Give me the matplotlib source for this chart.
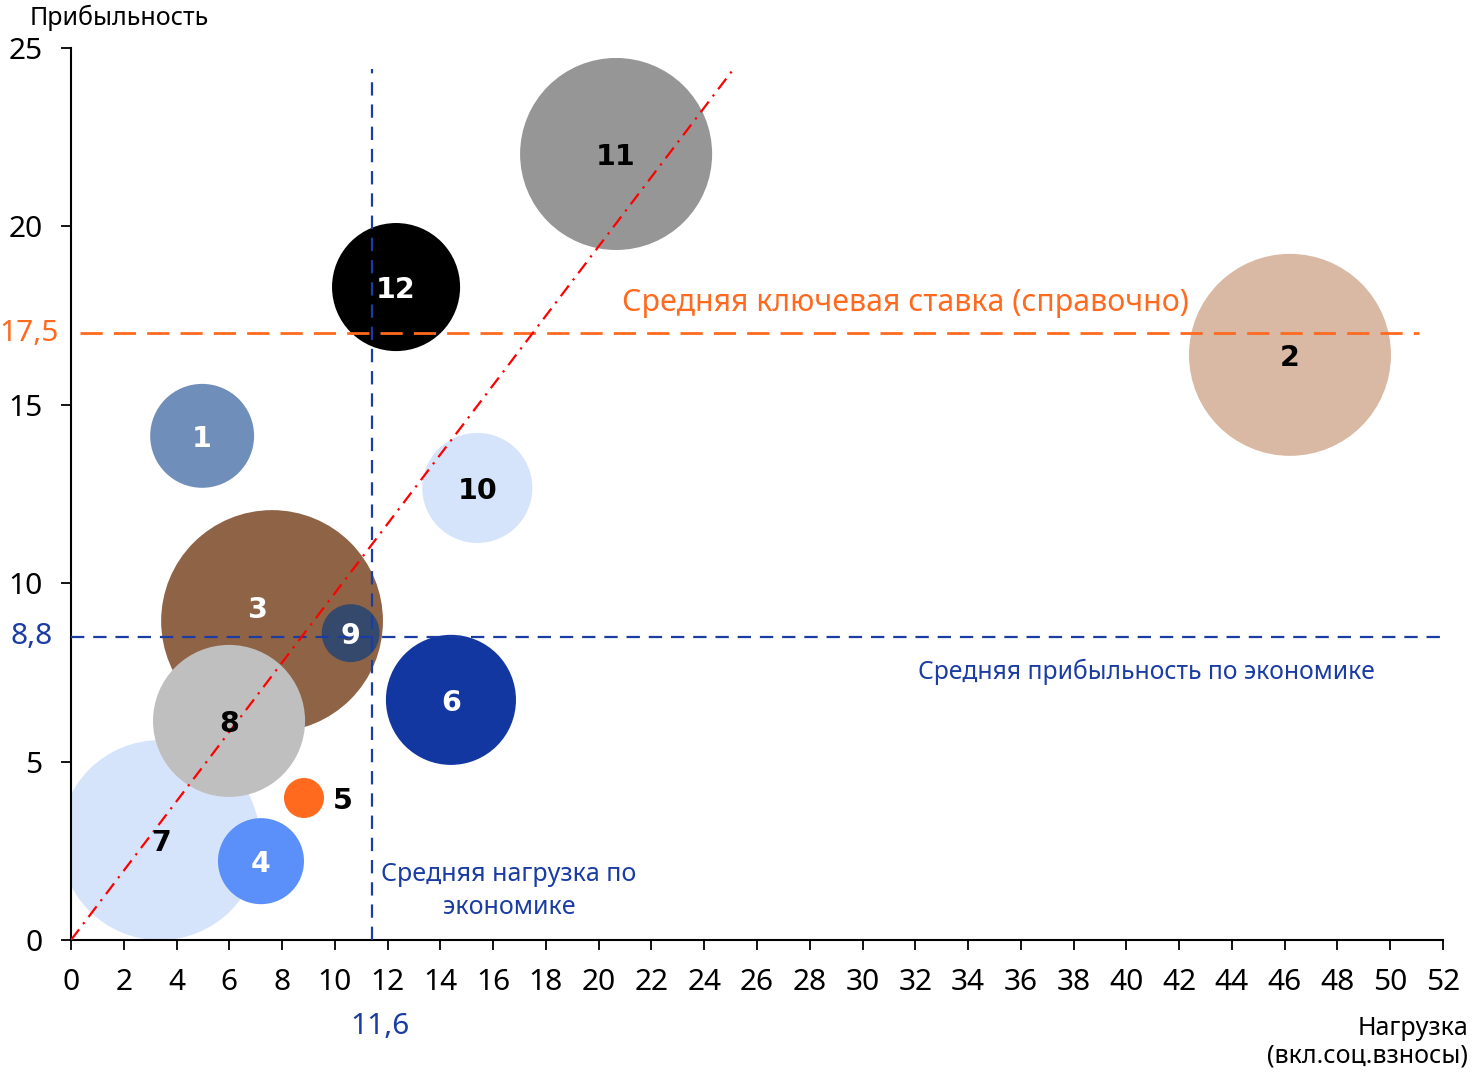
import numpy as np
import matplotlib
matplotlib.use("Agg")
import matplotlib.pyplot as plt
from matplotlib.patches import Rectangle

plt.rcParams['font.family'] = ['Noto Sans', 'DejaVu Sans']

# ---- data ----
labels = ['1', '2', '3', '4', '5', '6', '7', '8', '9', '10', '11', '12']
load = [4.97, 46.2, 7.62, 7.2, 8.83, 14.4, 3.37, 5.99, 10.6, 15.4, 20.66, 12.32]
profit = [14.13, 16.4, 8.94, 2.21, 3.98, 6.73, 2.8, 6.14, 8.6, 12.67, 22.03, 18.3]
weight = [27.0, 102.0, 123.0, 18.5, 4.0, 42.3, 100.0, 57.8, 8.4, 30.3, 92.2, 41.0]
colors = ['#6f8fba', '#d9b9a3', '#8f6446', '#5b8ff9', '#ff6a1f', '#1237a0',
          '#d6e4fb', '#bfbfbf', '#34496b', '#d6e4fb', '#969696', '#000000']
label_colors = ['white', 'black', 'white', 'white', 'black', 'white',
                'black', 'black', 'white', 'black', 'black', 'white']

key_rate_line = 17.0
key_rate_text = '17,5'
avg_profit_line = 8.5
avg_profit_text = '8,8'
avg_load_line = 11.4
avg_load_text = '11,6'
trend_x = [0, 25.1]
trend_y = [0, 24.4]

xticks = list(range(0, 53, 2))
yticks = [0, 5, 10, 15, 20, 25]

# ---- figure ----
W, H = 1473, 1074
fig = plt.figure(figsize=(W / 100, H / 100), dpi=100)
ax = fig.add_axes([71 / W, 1 - 940 / H, (1443 - 71) / W, (940 - 48) / H])
ax.set_xlim(0, 52)
ax.set_ylim(0, 25)

order = np.argsort(weight)[::-1]
k = (2 * 10 * 0.72) ** 2
sc = ax.scatter(np.array(load)[order], np.array(profit)[order],
                s=np.array(weight)[order] * k, c=np.array(colors)[order],
                linewidths=0, zorder=2)
clip_rect = Rectangle((0, 0), 1, 1, transform=ax.transAxes)
sc.set_clip_on(True)
sc.set_clip_box(ax.bbox)
sc.set_clip_path(clip_rect)

# label offsets in points
offsets = {'3': (-11, 8), '5': (28, -2), '7': (1, -2)}
for lab, x, y, lc in zip(labels, load, profit, label_colors):
    dx, dy = offsets.get(lab, (0, -2))
    ax.annotate(lab, (x, y), xytext=(dx, dy), textcoords='offset points',
                ha='center', va='center', fontsize=20.5, fontweight='bold',
                family='DejaVu Sans', color=lc, zorder=5)

orange = '#ff6a1f'
blue = '#1a3ca3'
ax.plot([0.34, 51.1], [key_rate_line] * 2, color=orange, lw=2,
        dashes=(8, 4), zorder=3)
ax.plot([0, 52], [avg_profit_line] * 2, color=blue, lw=1.6,
        dashes=(6, 4), zorder=3)
ax.plot([avg_load_line] * 2, [0, 24.4], color=blue, lw=1.6,
        dashes=(6, 4), zorder=3)
ax.plot(trend_x, trend_y, color='#ff0000', lw=1.6,
        dashes=(6, 3, 1, 3), zorder=3)

ax.text(20.9, 17.85, 'Средняя ключевая ставка (справочно)', color=orange,
        fontsize=21.8, ha='left', va='center', zorder=6)
ax.text(49.43, 7.51, 'Средняя прибыльность по экономике', color=blue,
        fontsize=17.8, ha='right', va='center', zorder=6)
ax.text(16.6, 1.38, 'Средняя нагрузка по\nэкономике', color=blue,
        fontsize=18, ha='center', va='center', linespacing=1.43, zorder=6)

ax.annotate(key_rate_text, (0, key_rate_line), xycoords=('axes fraction', 'data'),
            xytext=(-9, 0), textcoords='offset points', ha='right', va='center',
            color=orange, fontsize=21.5)
ax.annotate(avg_profit_text, (0, avg_profit_line), xycoords=('axes fraction', 'data'),
            xytext=(-13, 0), textcoords='offset points', ha='right', va='center',
            color=blue, fontsize=21.5)
ax.annotate(avg_load_text, (avg_load_line, 0), xycoords=('data', 'axes fraction'),
            xytext=(6, -62), textcoords='offset points', ha='center', va='center',
            color=blue, fontsize=21.5)

for s in ['top', 'right']:
    ax.spines[s].set_visible(False)
for s in ['left', 'bottom']:
    ax.spines[s].set_linewidth(1.5)
ax.set_xticks(xticks)
ax.set_yticks(yticks)
ax.tick_params(axis='both', direction='out', length=7, width=1.3,
               labelsize=21.5, pad=13.5)

fig.text(30 / W, 1 - 18 / H, 'Прибыльность', fontsize=18, ha='left', va='center')
fig.text(1468 / W, 1 - 1042 / H, 'Нагрузка\n(вкл.соц.взносы)', fontsize=18,
         ha='right', va='center', multialignment='right', linespacing=1.12)

fig.savefig('out.png', dpi=100)
